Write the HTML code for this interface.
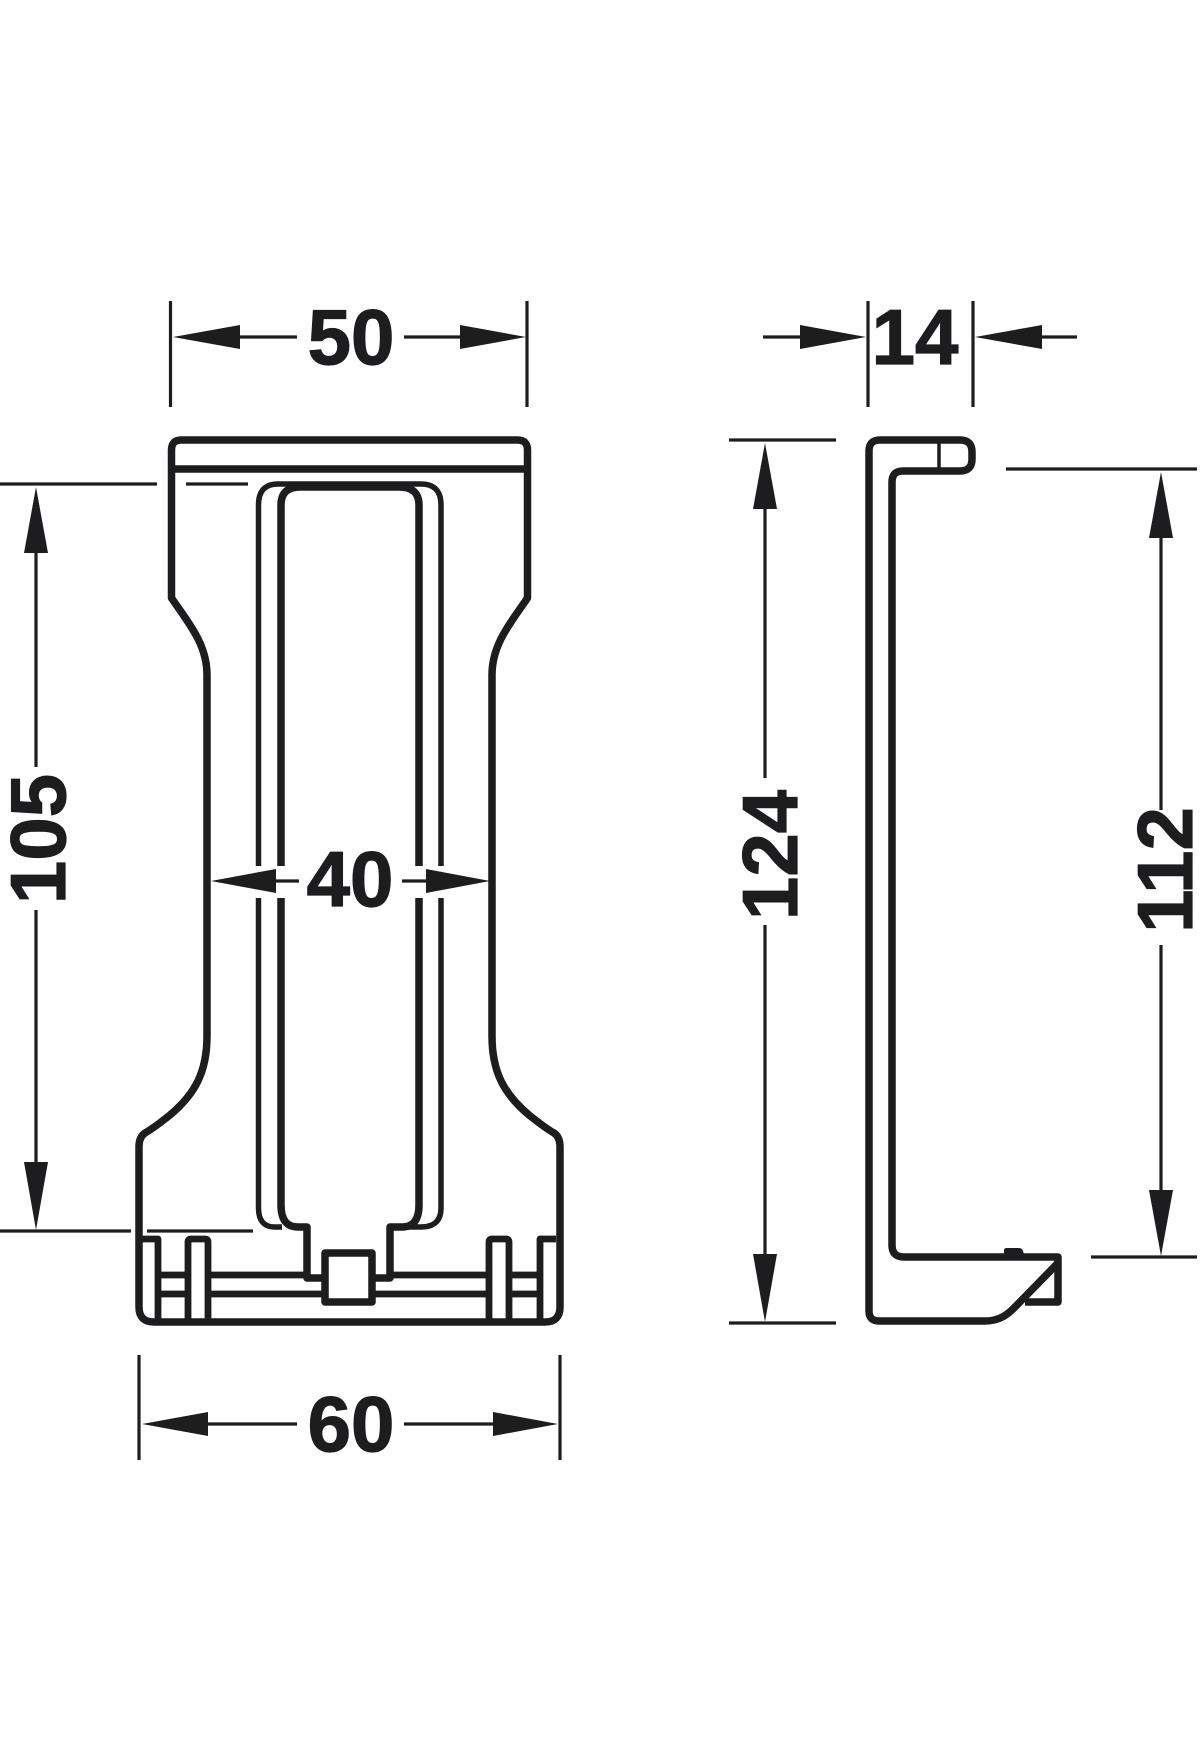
<!DOCTYPE html>
<html>
<head>
<meta charset="utf-8">
<style>
html,body{margin:0;padding:0;background:#fff;width:1200px;height:1760px;overflow:hidden}
svg{display:block}
text{font-family:"Liberation Sans",sans-serif;font-weight:bold;font-size:78px;fill:#1d1d1f;stroke:#1d1d1f;stroke-width:1.2px;text-anchor:middle}
</style>
</head>
<body>
<svg width="1200" height="1760" viewBox="0 0 1200 1760" xmlns="http://www.w3.org/2000/svg">
<rect width="1200" height="1760" fill="#fff"/>
<!-- front view -->
<g fill="none" stroke="#1d1d1f" stroke-width="7.5" stroke-linejoin="round">
<path d="M171.5 450Q171.5 440 181.5 440H517.5Q527.5 440 527.5 450V598C509 625 492 645 492 675V1036C492 1072 504 1094 529 1115C539 1123 547 1129 554 1133Q560 1137 560 1147V1307Q560 1322 545 1322H154Q139 1322 139 1307V1147Q139 1137 145 1133C152 1129 160 1123 170 1115C195 1094 207 1072 207 1036V675C207 645 190 625 171.5 598Z"/>
<path d="M172 469H527"/>
<path stroke-width="5.5" d="M282 1227H275Q258.5 1227 258.5 1208V505Q258.5 484 278 484H421Q441 484 441 505V1208Q441 1227 421 1227H407"/>
<path d="M325 1278H307V1227H298Q281 1227 281 1205V505Q281 487 300 487H399Q419 487 419 505V1205Q419 1227 402 1227H390V1278H373"/>
<rect x="325" y="1253" width="47" height="49"/>
<path stroke-width="6.8" d="M139 1239H158V1322M188 1322V1242Q188 1239 191 1239H205Q208 1239 208 1242V1322M489 1322V1242Q489 1239 492 1239H506Q509 1239 509 1242V1322M556 1239H540V1322"/>
<path stroke-width="6.8" d="M208 1275H304M393 1275H489M158 1275H188M509 1275H540M208 1294H323M375 1294H489M158 1294H188M509 1294H540"/>
</g>
<rect x="250" y="866" width="200" height="32" fill="#fff"/>
<!-- side view -->
<g fill="none" stroke="#1d1d1f" stroke-width="7.5" stroke-linejoin="round">
<path d="M939 440H880Q869 440 869 451V1311Q869 1321 879 1321H985C1000 1321 1008 1314 1014 1308L1058 1263"/>
<path d="M939 440H960Q972 440 972 452V459Q972 471 960 471H903Q892 471 892 482V1245Q892 1257 904 1257H1058V1302H1025"/>
<path stroke-width="3.5" d="M939 440V471"/>
</g>
<path d="M1004 1257V1250Q1004 1248 1007 1248H1019Q1022 1248 1023 1251L1025 1257Z" fill="#1d1d1f"/>
<!-- dimension lines -->
<g fill="none" stroke="#1d1d1f" stroke-width="3.2">
<path d="M170.5 301V407M527 301V407M240 337H297M404 337H460"/>
<path d="M139 1355V1460M560 1355V1460M208 1424H297M404 1424H493"/>
<path d="M276 881H299M402 881H426"/>
<path d="M0 484H157M186 484H248M0 1231H131M147 1231H253"/>
<path d="M36 553V767M36 910V1162"/>
<path d="M868 301V407M973 301V407M763 337H800M1042 337H1077"/>
<path d="M729 440H836M729 1323H836M765 509V778M765 925V1254"/>
<path d="M1006 469H1197M1091 1257H1197M1161 538V810M1161 945V1190"/>
</g>
<!-- arrowheads -->
<g fill="#1d1d1f">
<path d="M173 337L240 325V349Z"/><path d="M526 337L460 325V349Z"/>
<path d="M142 1424L208 1412V1436Z"/><path d="M558 1424L493 1412V1436Z"/>
<path d="M211 881L276 869V893Z"/><path d="M490 881L426 869V893Z"/>
<path d="M866 337L800 325V349Z"/><path d="M975 337L1042 325V349Z"/>
<path d="M36 487L24 553H48Z"/><path d="M36 1230L24 1162H48Z"/>
<path d="M765 443L753 509H777Z"/><path d="M765 1322L753 1254H777Z"/>
<path d="M1161 472L1149 538H1173Z"/><path d="M1161 1256L1149 1190H1173Z"/>
</g>
<!-- labels -->
<text x="351" y="364">50</text>
<text x="350" y="906">40</text>
<text x="351" y="1451">60</text>
<text x="915" y="364">14</text>
<text transform="translate(65 839) rotate(-90)">105</text>
<text transform="translate(797 855) rotate(-90)">124</text>
<text transform="translate(1192 870) rotate(-90)">112</text>
</svg>
</body>
</html>
